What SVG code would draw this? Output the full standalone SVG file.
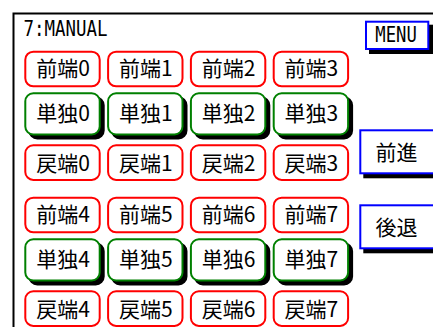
<svg xmlns="http://www.w3.org/2000/svg" width="433" height="327" viewBox="0 0 433 327">
<style>
text{font-family:"Noto Sans CJK JP","Liberation Sans",sans-serif;fill:#000;}
.mono{font-family:"DejaVu Sans Mono","Liberation Mono",monospace;}
.lbl{font-size:21px;text-anchor:middle;}
.red{fill:#fff;stroke:#ff0000;stroke-width:2;}
.grn{fill:#fff;stroke:#008000;stroke-width:2;}
.sh{fill:#000;stroke:#000;stroke-width:2;}
.blu{fill:#fff;stroke:#0000ff;stroke-width:2;}
</style>
<defs>
<rect id="rb" x="0" y="0" width="74.4" height="34.6" rx="8" ry="8"/>
<rect id="gb" x="0" y="0" width="74.4" height="41.2" rx="8" ry="8"/>
</defs>
<rect x="0" y="0" width="433" height="327" fill="#fff"/>
<g id="frame">
<path d="M13.5 327 V13.5 H433" fill="none" stroke="#000" stroke-width="2"/>
</g>
<g id="title"><text class="mono" transform="translate(23.5,36) scale(0.83,1)" font-size="21">7:MANUAL</text></g>
<g id="menu">
<rect class="sh" x="370" y="25.7" width="62.3" height="27.3"/>
<rect class="blu" x="366" y="21.7" width="62.3" height="27.3"/>
<text class="mono" transform="translate(375.3,41.7) scale(0.785,1)" font-size="22">MENU</text>
</g>
<g id="fwd">
<rect class="sh" x="364.3" y="134.3" width="80" height="43"/>
<rect class="blu" x="360.3" y="130.3" width="80" height="43"/>
<text x="375.5" y="159.7" font-size="21">前進</text>
</g>
<g id="back">
<rect class="sh" x="364.3" y="209.3" width="80" height="43"/>
<rect class="blu" x="360.3" y="205.3" width="80" height="43"/>
<text x="375.5" y="234.7" font-size="21">後退</text>
</g>
<g id="connectors"></g>
<!-- row 0 -->
<g id="b-front0"><use href="#rb" class="red" x="25.3" y="51.7"/><text class="lbl" x="63" y="76.3">前端0</text></g>
<g id="b-front1"><use href="#rb" class="red" x="108.1" y="51.7"/><text class="lbl" x="145.8" y="76.3">前端1</text></g>
<g id="b-front2"><use href="#rb" class="red" x="190.9" y="51.7"/><text class="lbl" x="228.6" y="76.3">前端2</text></g>
<g id="b-front3"><use href="#rb" class="red" x="273.7" y="51.7"/><text class="lbl" x="311.4" y="76.3">前端3</text></g>
<!-- row 1 -->
<g id="b-single0"><use href="#gb" class="sh" x="29.3" y="97.3"/><use href="#gb" class="grn" x="25.3" y="93.3"/><text class="lbl" x="63" y="120.5">単独0</text></g>
<g id="b-single1"><use href="#gb" class="sh" x="112.1" y="97.3"/><use href="#gb" class="grn" x="108.1" y="93.3"/><text class="lbl" x="145.8" y="120.5">単独1</text></g>
<g id="b-single2"><use href="#gb" class="sh" x="194.9" y="97.3"/><use href="#gb" class="grn" x="190.9" y="93.3"/><text class="lbl" x="228.6" y="120.5">単独2</text></g>
<g id="b-single3"><use href="#gb" class="sh" x="277.7" y="97.3"/><use href="#gb" class="grn" x="273.7" y="93.3"/><text class="lbl" x="311.4" y="120.5">単独3</text></g>
<!-- row 2 -->
<g id="b-rear0"><use href="#rb" class="red" x="25.3" y="145.3"/><text class="lbl" x="63" y="170.8">戻端0</text></g>
<g id="b-rear1"><use href="#rb" class="red" x="108.1" y="145.3"/><text class="lbl" x="145.8" y="170.8">戻端1</text></g>
<g id="b-rear2"><use href="#rb" class="red" x="190.9" y="145.3"/><text class="lbl" x="228.6" y="170.8">戻端2</text></g>
<g id="b-rear3"><use href="#rb" class="red" x="273.7" y="145.3"/><text class="lbl" x="311.4" y="170.8">戻端3</text></g>
<!-- row 3 -->
<g id="b-front4"><use href="#rb" class="red" x="25.3" y="197.7"/><text class="lbl" x="63" y="222.3">前端4</text></g>
<g id="b-front5"><use href="#rb" class="red" x="108.1" y="197.7"/><text class="lbl" x="145.8" y="222.3">前端5</text></g>
<g id="b-front6"><use href="#rb" class="red" x="190.9" y="197.7"/><text class="lbl" x="228.6" y="222.3">前端6</text></g>
<g id="b-front7"><use href="#rb" class="red" x="273.7" y="197.7"/><text class="lbl" x="311.4" y="222.3">前端7</text></g>
<!-- row 4 -->
<g id="b-single4"><use href="#gb" class="sh" x="29.3" y="243.3"/><use href="#gb" class="grn" x="25.3" y="239.3"/><text class="lbl" x="63" y="266.5">単独4</text></g>
<g id="b-single5"><use href="#gb" class="sh" x="112.1" y="243.3"/><use href="#gb" class="grn" x="108.1" y="239.3"/><text class="lbl" x="145.8" y="266.5">単独5</text></g>
<g id="b-single6"><use href="#gb" class="sh" x="194.9" y="243.3"/><use href="#gb" class="grn" x="190.9" y="239.3"/><text class="lbl" x="228.6" y="266.5">単独6</text></g>
<g id="b-single7"><use href="#gb" class="sh" x="277.7" y="243.3"/><use href="#gb" class="grn" x="273.7" y="239.3"/><text class="lbl" x="311.4" y="266.5">単独7</text></g>
<!-- row 5 -->
<g id="b-rear4"><use href="#rb" class="red" x="25.3" y="291.3"/><text class="lbl" x="63" y="316.8">戻端4</text></g>
<g id="b-rear5"><use href="#rb" class="red" x="108.1" y="291.3"/><text class="lbl" x="145.8" y="316.8">戻端5</text></g>
<g id="b-rear6"><use href="#rb" class="red" x="190.9" y="291.3"/><text class="lbl" x="228.6" y="316.8">戻端6</text></g>
<g id="b-rear7"><use href="#rb" class="red" x="273.7" y="291.3"/><text class="lbl" x="311.4" y="316.8">戻端7</text></g>
</svg>
